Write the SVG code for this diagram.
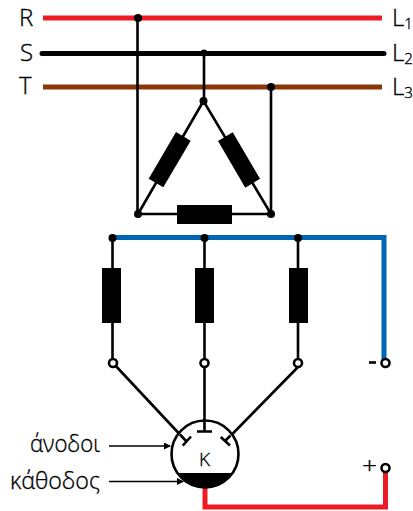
<svg xmlns="http://www.w3.org/2000/svg" width="413" height="511" viewBox="0 0 413 511">
<style>
.w{fill:none;stroke:#000;stroke-width:2.6}
.t{fill:none;stroke:#000;stroke-width:1.400}
.b{fill:#000}
.o{fill:#fff;stroke:#000;stroke-width:2.6}
text{font-family:"Open Sans","Liberation Sans",Arial,sans-serif;font-weight:300;fill:#000;stroke:#000;stroke-width:.35;font-size:24px}
.s{font-size:15px}
</style>
<defs><marker id="a" markerWidth="8" markerHeight="8" refX="6" refY="3.500" orient="auto" markerUnits="userSpaceOnUse"><path d="M0 0L7 3.500L0 7Z" fill="#000"/></marker></defs>
<g id="connectors">
<path d="M43 18H382" fill="none" stroke="#ed1c24" stroke-width="5"/>
<path d="M42 53.500H384" fill="none" stroke="#000" stroke-width="5" stroke-linecap="round"/>
<path d="M43 87H382" fill="none" stroke="#8b3608" stroke-width="5"/>
<path d="M113 237.500H384V360" fill="none" stroke="#0066b3" stroke-width="5"/>
<path d="M205 487V507H385.500V470" fill="none" stroke="#ed1c24" stroke-width="5"/>
<path class="w" d="M137.500 18V214M204 53V101M271 87V214"/>
<path class="w" d="M203.500 101L138 214H271Z"/>
<path class="w" d="M112.500 238V363M204.500 238V425M298 238V363"/>
<path class="w" d="M113 363L186 441M298 367L225.500 441"/>
<path class="t" d="M109 446H170" marker-end="url(#a)"/>
<path class="t" d="M109 481.500H183" marker-end="url(#a)"/>
</g>
<g id="junctions">
<circle class="b" cx="138" cy="18" r="4"/><circle class="b" cx="204" cy="53" r="3.500"/><circle class="b" cx="271" cy="87" r="4"/>
<circle class="b" cx="203.500" cy="101" r="4"/><circle class="b" cx="138" cy="214" r="4"/><circle class="b" cx="271" cy="214" r="4"/>
<circle class="b" cx="112.500" cy="238" r="4"/><circle class="b" cx="204.500" cy="238" r="4"/><circle class="b" cx="298" cy="238" r="4"/>
</g>
<g id="r-left"><path class="b" d="M176 132L190.700 140.700L163.300 187.300L148.700 178.700Z"/></g>
<g id="r-right"><path class="b" d="M232.700 132.300L218 141L245.300 187.700L260 178.700Z"/></g>
<g id="r-bottom"><rect class="b" x="177" y="205" width="55" height="19"/></g>
<g id="r-1"><rect class="b" x="102" y="268" width="19" height="55"/><circle class="o" cx="113" cy="363" r="4"/></g>
<g id="r-2"><rect class="b" x="195" y="268" width="19" height="55"/><circle class="o" cx="204.500" cy="363" r="4"/></g>
<g id="r-3"><rect class="b" x="289" y="268" width="19" height="55"/><circle class="o" cx="298" cy="363" r="4"/></g>
<g id="tube">
<circle cx="205" cy="454" r="33.500" fill="#fff" stroke="#000" stroke-width="2.600"/>
<path class="b" d="M177 473H233A33.500 33.500 0 0 1 177 473Z"/>
<path class="w" d="M204.500 420V431M197 431.500H212M191 436.500L182.700 445.700M220.700 437L230 445.500M180 434.500L186.500 441.500M230.500 435.500L225 441"/>
<text x="204.500" y="466" text-anchor="middle" style="font-size:19px">K</text>
</g>
<g id="term-minus"><circle class="o" cx="385.500" cy="363" r="4"/><path d="M369 362.500H376" stroke="#000" stroke-width="2.600"/></g>
<g id="term-plus"><text x="362" y="474" textLength="15" lengthAdjust="spacingAndGlyphs">+</text><circle class="o" cx="385.500" cy="468" r="4"/></g>
<g id="labels">
<text x="19" y="26">R</text><text x="20" y="61">S</text><text x="19" y="94">T</text>
<text x="392" y="26">L<tspan class="s" dy="3">1</tspan></text>
<text x="392" y="61">L<tspan class="s" dy="3">2</tspan></text>
<text x="392" y="95">L<tspan class="s" dy="3">3</tspan></text>
<text x="30" y="452" textLength="70" lengthAdjust="spacingAndGlyphs">άνοδοι</text>
<text x="10" y="489" textLength="90" lengthAdjust="spacingAndGlyphs">κάθοδος</text>
</g>
</svg>
